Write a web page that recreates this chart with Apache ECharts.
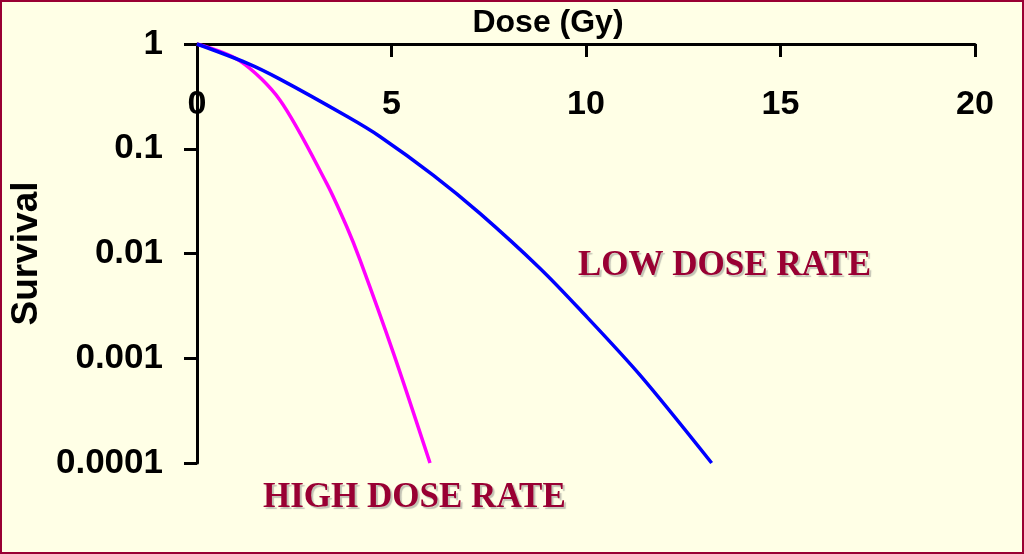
<!DOCTYPE html>
<html>
<head>
<meta charset="utf-8">
<script src="https://cdn.jsdelivr.net/npm/echarts@6/dist/echarts.min.js"></script>
<style>
html,body{margin:0;padding:0;background:#FFFFE6;}
#chart{width:1024px;height:554px;}
</style>
</head>
<body>
<div id="chart"></div>
<script>
// Dose (Gy) and surviving fraction
const lowDoseX  = [0, 1.27, 2.13, 3.85, 4.70, 6.07, 7.28, 8.82, 9.85, 11.39, 13.23];
const lowDoseY  = [1, 0.66, 0.462, 0.204, 0.131, 0.056, 0.024, 0.0072, 0.0029, 0.00069, 0.0001];
const highDoseX = [0, 1.1, 2.13, 3.33, 3.85, 4.19, 5.05, 5.99];
const highDoseY = [1, 0.69, 0.292, 0.047, 0.018, 0.0087, 0.00112, 0.0001];
const xTicks = [0, 5, 10, 15, 20];
const yTickLabels = ['0.0001', '0.001', '0.01', '0.1', '1'];
const seriesNames = ['LOW DOSE RATE', 'HIGH DOSE RATE'];

const pairs = (xs, ys) => xs.map((x, i) => [x, ys[i]]);

const chart = echarts.init(document.getElementById('chart'));
const labelFont = 'Liberation Sans, Arial, sans-serif';
const noteFont = 'bold 35px "Liberation Serif", "Times New Roman", serif';
chart.setOption({
  backgroundColor: '#FFFFE6',
  animation: false,
  grid: { left: 197, right: 49, top: 44, bottom: 91, containLabel: false, outerBoundsMode: 'none' },
  xAxis: {
    type: 'value', position: 'top',
    min: xTicks[0], max: xTicks[xTicks.length - 1], interval: 5,
    name: 'Dose (Gy)', nameLocation: 'middle', nameGap: 5,
    nameTextStyle: { fontFamily: labelFont, fontWeight: 'bold', fontSize: 32, color: '#000', padding: [0, 76, 0, 0] },
    axisLine: { show: true, lineStyle: { color: '#000', width: 3 } },
    axisTick: { show: true, inside: true, length: 13, lineStyle: { color: '#000', width: 3 } },
    axisLabel: { inside: true, margin: 44, fontFamily: labelFont, fontWeight: 'bold', fontSize: 34, color: '#000' },
    splitLine: { show: false }
  },
  yAxis: {
    type: 'log', logBase: 10, min: 0.0001, max: 1,
    name: 'Survival', nameLocation: 'middle', nameGap: 152, nameRotate: 90,
    nameTextStyle: { fontFamily: labelFont, fontWeight: 'bold', fontSize: 37, color: '#000' },
    axisLine: { show: true, lineStyle: { color: '#000', width: 3 } },
    axisTick: { show: true, inside: false, length: 13, lineStyle: { color: '#000', width: 3 } },
    axisLabel: {
      margin: 34, fontFamily: labelFont, fontWeight: 'bold', fontSize: 35, color: '#000',
      formatter: v => yTickLabels[Math.round(Math.log10(v)) + 4]
    },
    splitLine: { show: false }
  },
  series: [
    {
      name: seriesNames[0], type: 'line', data: pairs(lowDoseX, lowDoseY),
      smooth: 0.3, showSymbol: false, symbol: 'none',
      lineStyle: { color: '#0000FF', width: 3.5 }, z: 3
    },
    {
      name: seriesNames[1], type: 'line', data: pairs(highDoseX, highDoseY),
      smooth: 0.3, showSymbol: false, symbol: 'none',
      lineStyle: { color: '#FF00FF', width: 3.5 }, z: 2
    }
  ],
  graphic: [
    {
      type: 'rect', shape: { x: 1, y: 1, width: 1022, height: 552 },
      style: { fill: 'none', stroke: '#990033', lineWidth: 2 }, silent: true
    },
    {
      type: 'text', left: 578, top: 248,
      style: {
        text: seriesNames[0], fill: '#990033', font: noteFont,
        textShadowColor: 'rgba(120,120,120,0.45)', textShadowOffsetX: 2, textShadowOffsetY: 2, textShadowBlur: 1
      }
    },
    {
      type: 'text', left: 263, top: 480,
      style: {
        text: seriesNames[1], fill: '#990033', font: noteFont,
        textShadowColor: 'rgba(120,120,120,0.45)', textShadowOffsetX: 2, textShadowOffsetY: 2, textShadowBlur: 1
      }
    }
  ]
});
</script>
</body>
</html>
